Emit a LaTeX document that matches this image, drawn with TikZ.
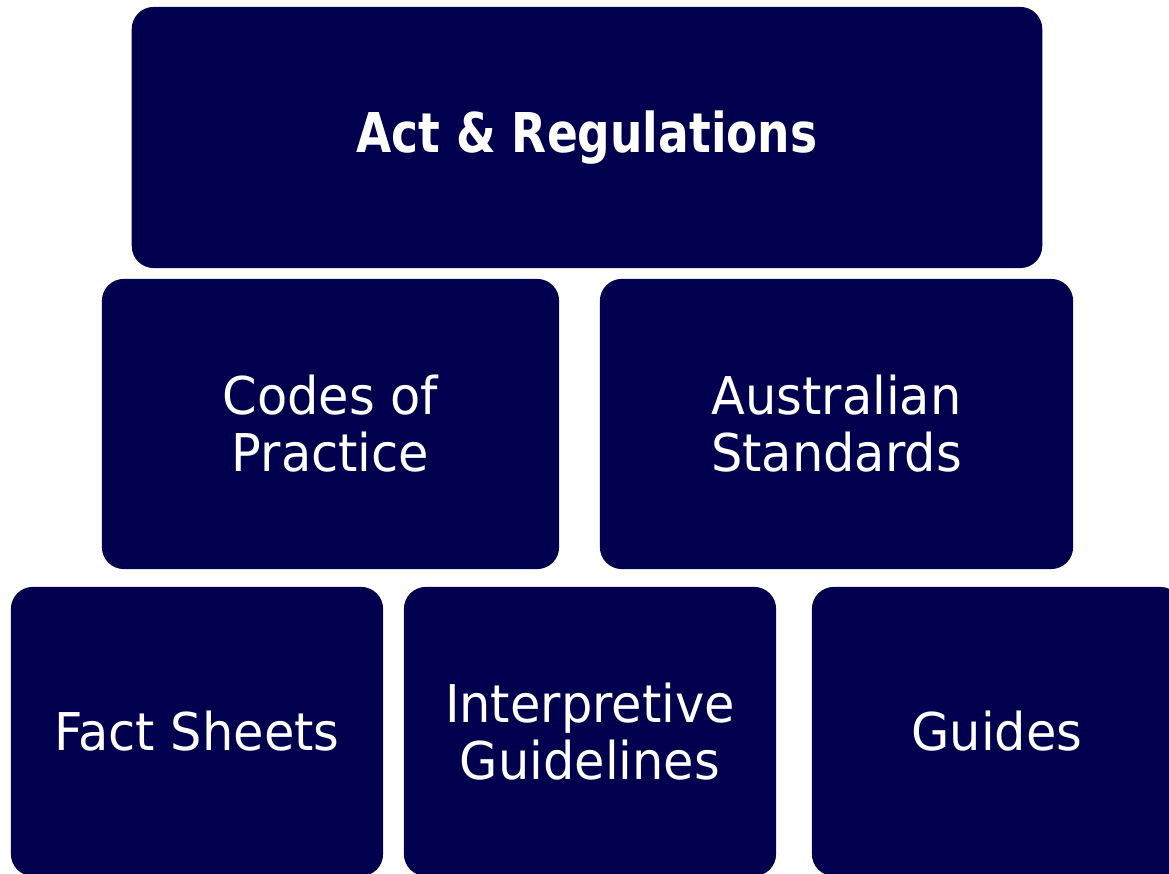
\documentclass[tikz,border=0pt]{standalone}
\usepackage{fontspec}
\usepackage{tikz}
\usetikzlibrary{positioning}
\newfontfamily\tilefont{DejaVu Sans}[FakeStretch=0.95,BoldFeatures={FakeStretch=0.83}]
\definecolor{tilenavy}{RGB}{0,0,78}

\begin{document}
\begin{tikzpicture}[line cap=round,line join=round,x=0.01cm,y=-0.01cm,
  tile/.style={fill=tilenavy, draw=none, rounded corners=0.22cm, inner sep=0pt,
    text=white, align=center, font=\tilefont\fontsize{14.8}{16.2}\selectfont},
  head/.style={tile, font=\tilefont\bfseries\fontsize{15.6}{17}\selectfont}]
\useasboundingbox (0,0) rectangle (1169,874);
\clip (0,0) rectangle (1169,874);

% top tier
\node[head, minimum width=9.10cm, minimum height=2.61cm] (act) at (587,137.5) {Act \& Regulations};

% middle tier
\node[tile, minimum width=4.57cm, minimum height=2.90cm] (codes) at (330.5,424) {Codes of\\Practice};
\node[tile, minimum width=4.73cm, minimum height=2.90cm] (standards) at (836.5,424) {Australian\\Standards};

% bottom tier
\node[tile, minimum width=3.72cm, minimum height=2.89cm] (facts) at (197,731.5) {Fact Sheets};
\node[tile, minimum width=3.72cm, minimum height=2.89cm] (interp) at (590,731.5) {Interpretive\\Guidelines};
\node[tile, minimum width=3.70cm, minimum height=2.89cm] (guides) at (997,731.5) {Guides};

\end{tikzpicture}
\end{document}
